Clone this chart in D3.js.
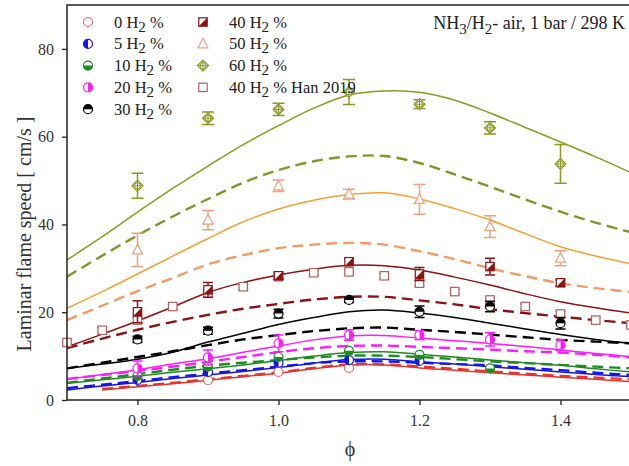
<!DOCTYPE html>
<html><head><meta charset="utf-8">
<script src="https://cdn.jsdelivr.net/npm/d3@7"></script>
<style>body{margin:0;background:#fff}svg{display:block}text{font-family:"Liberation Serif","Times New Roman",serif}</style>
</head><body><svg id="c" width="629" height="466"></svg>
<script>
// ---------- data ----------
const phiModel = [0.7,0.75,0.8,0.85,0.9,0.95,1.0,1.05,1.1,1.15,1.2,1.25,1.3,1.35,1.4,1.45,1.5];
const model0A  = [null,2.3,3.0,3.7,4.5,5.3,6.1,7.1,8.0,8.0,7.3,6.8,6.2,5.7,5.2,4.7,4.2];
const model0B  = [null,2.5,3.2,3.9,4.7,5.5,6.3,7.3,8.1,8.1,7.6,7.1,6.5,6.0,5.5,5.1,4.7];
const model5A  = [2.3,3.2,4.0,4.9,5.7,6.5,7.4,8.4,9.2,9.3,8.7,8.2,7.6,7.0,6.4,5.8,5.3];
const model5B  = [2.7,3.5,4.3,5.2,6.0,6.8,7.6,8.4,8.8,8.8,8.5,8.2,7.9,7.3,6.8,6.2,5.7];
const model10A = [3.8,4.6,5.4,6.3,7.1,8.0,9.0,10.0,10.8,11.0,10.4,9.8,9.1,8.5,7.9,7.1,6.4];
const model10B = [3.9,4.9,5.9,6.9,7.8,8.5,9.1,9.7,10.1,10.1,9.8,9.3,8.8,8.4,8.0,7.6,7.2];
const model20A = [4.7,5.8,6.9,8.2,9.4,10.9,12.3,13.7,14.6,14.7,14.1,13.5,12.9,12.2,11.4,10.6,9.9];
const model20B = [4.8,5.7,6.6,7.6,8.7,9.8,10.9,11.8,12.3,12.4,12.1,11.8,11.5,11.1,10.8,10.3,9.7];
const model30A = [7.2,8.2,9.3,10.9,13.2,15.2,17.2,18.8,20.1,20.5,19.8,18.8,17.5,16.2,14.9,13.8,12.9];
const model30B = [7.2,8.5,9.8,11.1,12.5,13.8,14.8,15.7,16.3,16.5,16.0,15.5,14.9,14.3,13.7,13.3,12.9];
const model40A = [12.1,15.0,18.0,21.2,24.5,26.8,28.5,29.8,30.7,30.6,29.6,28.0,26.2,24.2,22.4,21.0,19.8];
const model40B = [11.8,14.0,16.0,17.8,19.4,20.8,21.9,22.9,23.5,23.5,22.7,21.8,20.7,19.8,19.0,18.2,17.5];
const model50A = [20.9,24.7,28.7,32.8,36.8,40.6,43.5,45.5,46.8,47.2,45.8,43.6,41.0,37.9,34.9,32.8,31.0];
const model50B = [18.2,21.5,24.8,27.8,30.9,33.0,34.6,35.4,35.8,35.4,33.9,32.1,30.0,28.2,26.6,25.5,24.6];
const model60A = [31.9,37.2,42.8,48.2,53.3,58.2,62.5,66.5,69.5,70.4,70.1,68.3,65.4,62.1,58.8,55.4,51.8];
const model60B = [28.1,32.9,37.5,41.8,45.8,49.5,52.4,54.4,55.5,55.6,54.0,51.4,48.6,45.7,42.9,40.4,38.2];

const phiExp = [0.8,0.9,1.0,1.1,1.2,1.3,1.4];
const exp0  = [null,4.5,6.4,7.3,null,null,null];
const err0  = [0,0.5,0.5,0.5,0,0,0];
const exp5  = [4.6,6.4,8.5,9.1,8.9,null,null];
const err5  = [0.5,0.5,0.5,0.5,0.5,0,0];
const exp10 = [5.5,7.6,9.8,11.2,10.3,7.2,null];
const err10 = [0.5,0.5,0.5,0.6,0.6,0.4,0];
const exp20 = [7.2,9.7,12.9,14.8,14.8,13.8,12.5];
const err20 = [1.7,1.7,1.9,1.2,1.0,1.5,1.2];
const exp30 = [13.8,15.8,19.7,22.8,20.1,21.3,17.5];
const err30 = [0.7,0.8,1.0,0.6,1.3,1.2,1.3];
const exp40 = [20.1,25.1,28.3,31.5,28.7,30.4,26.7];
const err40 = [2.5,1.7,0.8,0.8,1.5,1.9,0.7];
const exp50 = [34.2,41.0,48.8,46.9,45.7,39.5,32.3];
const err50 = [3.8,2.2,1.3,1.1,3.4,2.5,1.7];
const exp60 = [48.8,64.2,66.2,70.2,67.4,62.0,53.8];
const err60 = [2.85,1.4,1.4,2.85,1.0,1.4,4.4];

const phiHan = [0.7,0.75,0.8,0.85,0.9,0.95,1.0,1.05,1.1,1.15,1.2,1.25,1.3,1.35,1.4,1.45,1.5];
const han40  = [13.1,15.9,18.2,21.3,24.3,25.8,28.1,29.0,29.2,28.3,26.6,24.7,22.8,21.3,19.6,18.2,17.1];
const errHan = [0.6,0.6,0.6,0.6,0.6,0.6,0.6,0.6,0.6,0.6,0.6,0.6,0.6,0.6,0.6,0.6,0.6];

const xTicks = [0.8,1.0,1.2,1.4];
const yTicks = [0,20,40,60,80];
const legendLabels = ["0","5","10","20","30","40","50","60","40"];

// ---------- setup ----------
const svg = d3.select("#c");
const x = d3.scaleLinear().domain([0.7,1.5]).range([67,631]);
const y = d3.scaleLinear().domain([0,90]).range([400,5]);

const C = {
  red:"#e8322c", redM:"#e06b6b", blue:"#1515e6", green:"#1f8a1f", mag:"#ff1aff",
  blk:"#000000", dred:"#8a1212", orA:"#f5a033", orB:"#f29a68", orM:"#f0a07e",
  olA:"#8c9a22", olB:"#83952a", olM:"#9aa33c", han:"#b06060"
};

const models = [
  [model0A,C.red,false],[model0B,C.red,true],
  [model5A,C.blue,false],[model5B,C.blue,true],
  [model10A,C.green,false],[model10B,C.green,true],
  [model20A,C.mag,false],[model20B,C.mag,true],
  [model30A,C.blk,false],[model30B,C.blk,true],
  [model40A,C.dred,false],[model40B,C.dred,true],
  [model50A,C.orA,false],[model50B,C.orB,true],
  [model60A,C.olA,false],[model60B,C.olB,true]
];

svg.append("clipPath").attr("id","clip").append("rect")
  .attr("x",67).attr("y",5).attr("width",564).attr("height",395);

const line = d3.line().defined(d=>d[1]!=null)
  .x(d=>x(d[0])).y(d=>y(d[1])).curve(d3.curveCatmullRom.alpha(0.5));

const gl = svg.append("g").attr("clip-path","url(#clip)");
models.forEach(([vals,col,dash])=>{
  gl.append("path").datum(phiModel.map((p,i)=>[p,vals[i]]))
    .attr("d",line).attr("fill","none").attr("stroke",col)
    .attr("stroke-width",dash?2.4:1.5)
    .attr("stroke-dasharray",dash?"11,6":null);
});

// ---------- markers ----------
function marker(g,type,col,r){
  r = r||4.5;
  if(type==="circle"){
    g.append("circle").attr("r",r).attr("fill","#fff").attr("stroke",col).attr("stroke-width",1.2);
  } else if(type.startsWith("half")){
    g.append("circle").attr("r",r).attr("fill","#fff").attr("stroke",col).attr("stroke-width",1.2);
    let p;
    if(type==="halfL") p=`M0,${-r}A${r},${r} 0 0 0 0,${r}Z`;
    if(type==="halfR") p=`M0,${-r}A${r},${r} 0 0 1 0,${r}Z`;
    if(type==="halfT") p=`M${-r},0A${r},${r} 0 0 1 ${r},0Z`;
    if(type==="halfB") p=`M${-r},0A${r},${r} 0 0 0 ${r},0Z`;
    g.append("path").attr("d",p).attr("fill",col);
  } else if(type==="sqHalf"){
    const s=r-0.3;
    g.append("rect").attr("x",-s).attr("y",-s).attr("width",2*s).attr("height",2*s).attr("fill","#fff").attr("stroke",col).attr("stroke-width",1.2);
    g.append("path").attr("d",`M${s},${-s}L${s},${s}L${-s},${s}Z`).attr("fill",col);
  } else if(type==="tri"){
    g.append("path").attr("d",`M0,${-r-1}L${r+0.5},${r-0.5}L${-r-0.5},${r-0.5}Z`).attr("fill","#fff").attr("stroke",col).attr("stroke-width",1.2);
  } else if(type==="diam"){
    const s=r+1;
    g.append("path").attr("d",`M0,${-s}L${s},0L0,${s}L${-s},0Z`).attr("fill","#fff").attr("stroke",col).attr("stroke-width",1.2);
    g.append("circle").attr("r",r-1.5).attr("fill","none").attr("stroke",col).attr("stroke-width",1);
    g.append("path").attr("d",`M0,${-s}V${s}M${-s},0H${s}`).attr("stroke",col).attr("stroke-width",1);
  } else if(type==="sq"){
    const s=r-0.3;
    g.append("rect").attr("x",-s).attr("y",-s).attr("width",2*s).attr("height",2*s).attr("fill","#fff").attr("stroke",col).attr("stroke-width",1.2);
  }
}

function series(phis,vals,errs,type,col,cap){
  const g = svg.append("g");
  phis.forEach((p,i)=>{
    const v=vals[i]; if(v==null) return;
    const cx=x(p), e=errs[i];
    if(e>0){
      const y1=y(v+e), y2=y(v-e), w=cap/2;
      g.append("path").attr("d",`M${cx},${y1}V${y2}M${cx-w},${y1}H${cx+w}M${cx-w},${y2}H${cx+w}`)
        .attr("stroke",col).attr("stroke-width",1.5).attr("fill","none");
    }
    const m=g.append("g").attr("transform",`translate(${cx},${y(v)})`);
    marker(m,type,col);
  });
}

series(phiHan,han40,errHan,"sq",C.han,10);
series(phiExp,exp0,err0,"circle",C.redM,8);
series(phiExp,exp5,err5,"halfL",C.blue,8);
series(phiExp,exp10,err10,"halfB",C.green,8);
series(phiExp,exp20,err20,"halfR",C.mag,10);
series(phiExp,exp30,err30,"halfT",C.blk,10);
series(phiExp,exp40,err40,"sqHalf",C.dred,10);
series(phiExp,exp50,err50,"tri",C.orM,12);
series(phiExp,exp60,err60,"diam",C.olA,12);

// ---------- axes / frame ----------
svg.append("path").attr("d","M67,5H631V400H67Z").attr("fill","none").attr("stroke","#222").attr("stroke-width",1.5);

const xa = svg.append("g").attr("transform","translate(0,400)")
  .call(d3.axisBottom(x).tickValues(xTicks).tickFormat(d3.format(".1f")).tickSize(5).tickPadding(10));
const ya = svg.append("g").attr("transform","translate(67,0)")
  .call(d3.axisLeft(y).tickValues(yTicks).tickSize(5).tickPadding(8));
[xa,ya].forEach(a=>{
  a.select(".domain").remove();
  a.selectAll("line").attr("stroke","#222").attr("stroke-width",1.3);
  a.selectAll("text").attr("font-family","Liberation Serif, serif").attr("font-size",16).attr("fill","#333");
});

svg.append("text").attr("transform","translate(31,234) rotate(-90)")
  .attr("text-anchor","middle").attr("font-size",20).attr("fill","#333")
  .text("Laminar flame speed [ cm/s ]");
svg.append("text").attr("x",350).attr("y",456).attr("text-anchor","middle")
  .attr("font-size",20).attr("fill","#333").text("ϕ");

// title
const t = svg.append("text").attr("x",625).attr("y",29).attr("text-anchor","end").attr("font-size",18).attr("fill","#222");
t.append("tspan").text("NH");
t.append("tspan").attr("dy",5).attr("font-size",15).text("3");
t.append("tspan").attr("dy",-5).text("/H");
t.append("tspan").attr("dy",5).attr("font-size",15).text("2");
t.append("tspan").attr("dy",-5).text("- air, 1 bar / 298 K");

// ---------- legend ----------
const legTypes = [
  ["circle",C.redM],["halfL",C.blue],["halfB",C.green],["halfR",C.mag],["halfT",C.blk],
  ["sqHalf",C.dred],["tri",C.orM],["diam",C.olA],["sq",C.han]
];
legTypes.forEach(([type,col],i)=>{
  const colI = i<5?0:1, row = i<5?i:i-5;
  const mx = colI?203:88, tx = colI?229:114, cy = 22+row*21.8;
  const m = svg.append("g").attr("transform",`translate(${mx},${cy})`);
  marker(m,type,col);
  const tt = svg.append("text").attr("x",tx).attr("y",cy+5.5).attr("font-size",16.5).attr("fill","#222");
  tt.append("tspan").text(legendLabels[i]+" H");
  tt.append("tspan").attr("dy",4).attr("font-size",15).text("2");
  tt.append("tspan").attr("dy",-4).text(i===8?" %  Han 2019":" %");
});
</script></body></html>
